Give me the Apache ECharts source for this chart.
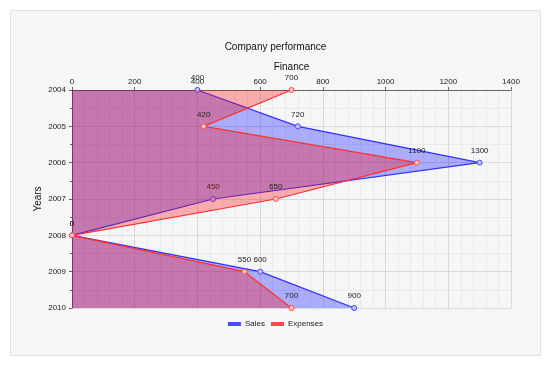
<!DOCTYPE html>
<html>
<head>
<meta charset="utf-8">
<script src="https://cdn.jsdelivr.net/npm/echarts@6/dist/echarts.min.js"></script>
<style>
html,body{margin:0;padding:0;background:#ffffff;}
#chart{width:551px;height:367px;}
</style>
</head>
<body>
<div id="chart"></div>
<script>
const years = ['2004', '2005', '2006', '2007', '2008', '2009', '2010'];
const sales = [400, 720, 1300, 450, 0, 600, 900];
const expenses = [700, 420, 1100, 650, 0, 550, 700];
const seriesNames = ['Sales', 'Expenses'];

const chart = echarts.init(document.getElementById('chart'), null, {renderer: 'canvas'});
const font = 'Arial, "Liberation Sans", sans-serif';
const labelStyle = {show: true, position: 'top', fontSize: 8, color: '#222', distance: 5, fontFamily: font};

chart.setOption({
  animation: false,
  textStyle: {fontFamily: font},
  graphic: [{
    type: 'rect', z: -10, silent: true,
    shape: {x: 10.5, y: 10.5, width: 530, height: 345},
    style: {fill: '#f5f6f8', stroke: '#dfe1e5', lineWidth: 1}
  }],
  title: {
    text: 'Company performance', left: 'center', top: 37,
    textStyle: {fontSize: 10, fontWeight: 'normal', color: '#111', fontFamily: font}
  },
  legend: {
    data: seriesNames, bottom: 34, left: 'center',
    itemWidth: 11, itemHeight: 2, itemGap: 6,
    icon: 'rect',
    textStyle: {fontSize: 8, color: '#222', fontFamily: font}
  },
  grid: {left: 72, right: 40, top: 90, bottom: 59, containLabel: false},
  xAxis: {
    type: 'value', position: 'top', min: 0, max: 1400, interval: 200,
    name: 'Finance', nameLocation: 'middle', nameGap: 18, nameMoveOverlap: false,
    nameTextStyle: {fontSize: 10, color: '#111', fontFamily: font},
    axisLine: {show: true, lineStyle: {color: '#666', width: 1}},
    axisTick: {show: true, length: 3, lineStyle: {color: '#666'}},
    axisLabel: {fontSize: 8, color: '#222', margin: 4, fontFamily: font, formatter: v => String(v)},
    splitLine: {show: true, lineStyle: {color: '#d6d8db', width: 1}},
    minorTick: {show: false, splitNumber: 5},
    minorSplitLine: {show: true, lineStyle: {color: '#e8eaed', width: 1}}
  },
  yAxis: [{
    type: 'category', data: years, inverse: true, boundaryGap: false,
    name: 'Years', nameLocation: 'middle', nameGap: 29, nameMoveOverlap: false,
    nameTextStyle: {fontSize: 10, color: '#111', fontFamily: font},
    axisLine: {show: true, lineStyle: {color: '#666', width: 1}},
    axisTick: {show: true, length: 3, lineStyle: {color: '#666'}},
    axisLabel: {fontSize: 8, color: '#222', margin: 6, fontFamily: font},
    splitLine: {show: false}
  }, {
    type: 'value', inverse: true, min: 0, max: 12, interval: 1, position: 'left',
    axisLine: {show: false},
    axisTick: {show: true, length: 2, lineStyle: {color: '#666'}},
    axisLabel: {show: false},
    splitLine: {show: true, lineStyle: {color: ['#d6d8db', '#e8eaed'], width: 1}}
  }],
  series: [
    {
      name: 'Sales', type: 'line', data: sales,
      symbol: 'circle', symbolSize: 5,
      itemStyle: {color: '#c4c4ff', borderColor: '#4a4aff', borderWidth: 1},
      lineStyle: {color: '#3030ff', width: 1.2},
      areaStyle: {color: 'rgba(0,0,255,0.43)', origin: 'start'},
      label: labelStyle,
      z: 2
    },
    {
      name: 'Expenses', type: 'line', data: expenses,
      symbol: 'circle', symbolSize: 5,
      itemStyle: {color: '#ffc4c4', borderColor: '#ff4a4a', borderWidth: 1},
      lineStyle: {color: '#ff3030', width: 1.2},
      areaStyle: {color: 'rgba(255,0,0,0.43)', origin: 'start'},
      label: labelStyle,
      z: 3
    }
  ]
});
</script>
</body>
</html>
